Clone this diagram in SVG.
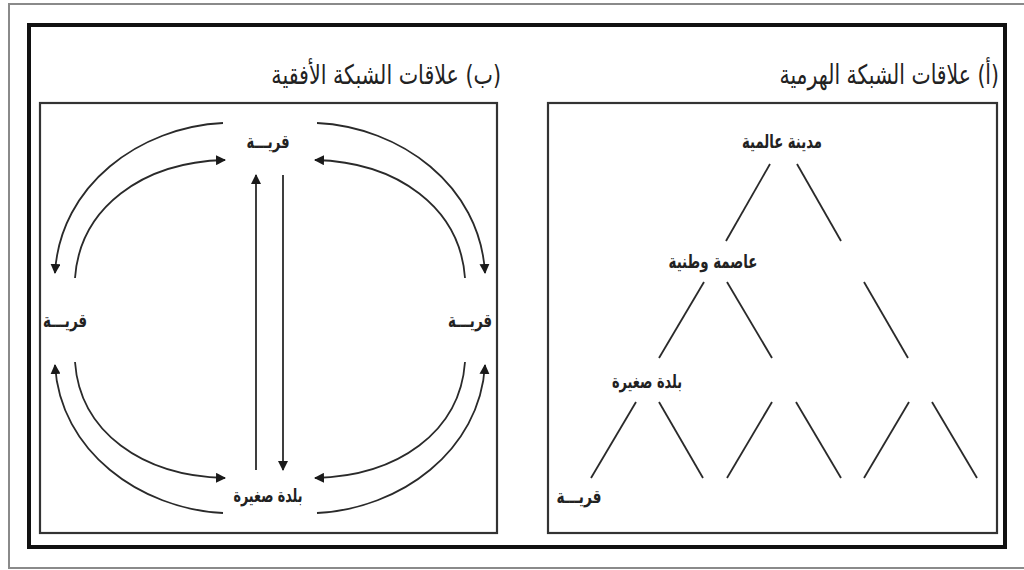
<svg xmlns="http://www.w3.org/2000/svg" width="1024" height="570" viewBox="0 0 1024 570">
<defs>
<marker id="ah" viewBox="0 0 10 10" refX="9" refY="5" markerWidth="10" markerHeight="10" markerUnits="userSpaceOnUse" orient="auto">
<path d="M0,0 L10,5 L0,10 Z" fill="#1a1a1a"/>
</marker>
</defs>
<style>
.frame-gray{fill:none;stroke:#8a8a8a;stroke-width:2}
.frame-black{fill:none;stroke:#111;stroke-width:4}
.box{fill:none;stroke:#333;stroke-width:2.2}
.title{font-family:"DejaVu Sans Condensed","DejaVu Sans",sans-serif;font-size:27px;fill:#222}
.lbl{font-family:"DejaVu Sans Condensed","DejaVu Sans",sans-serif;font-size:19px;font-weight:bold;fill:#222;text-anchor:middle}
.ln{fill:none;stroke:#2a2a2a;stroke-width:1.8}
.arr{fill:none;stroke:#2a2a2a;stroke-width:1.8;marker-end:url(#ah)}
</style>
<rect width="1024" height="570" fill="#fff"/>
<rect class="frame-gray" x="9" y="4" width="1030" height="564"/>
<rect class="frame-black" x="29" y="25" width="976" height="522"/>
<rect class="box" x="40" y="103" width="457" height="430"/>
<rect class="box" x="548" y="103" width="449" height="430"/>
<g id="title-a" transform="translate(999,84) scale(0.84,1)"><text class="title" x="0" y="0" direction="rtl" text-anchor="start">(أ) علاقات الشبكة الهرمية</text></g>
<g id="title-b" transform="translate(501,84) scale(0.85,1)"><text class="title" x="0" y="0" direction="rtl" text-anchor="start">(ب) علاقات الشبكة الأفقية</text></g>

<g id="connectors">
<line class="ln" x1="770" y1="164" x2="726" y2="241"/>
<line class="ln" x1="797" y1="164" x2="841" y2="241"/>
<line class="ln" x1="704" y1="282" x2="659" y2="358"/>
<line class="ln" x1="727" y1="282" x2="772" y2="358"/>
<line class="ln" x1="864" y1="282" x2="908" y2="358"/>
<line class="ln" x1="636" y1="402" x2="591" y2="478"/>
<line class="ln" x1="659" y1="402" x2="703" y2="478"/>
<line class="ln" x1="772" y1="402" x2="727" y2="478"/>
<line class="ln" x1="796" y1="402" x2="841" y2="478"/>
<line class="ln" x1="909" y1="402" x2="864" y2="478"/>
<line class="ln" x1="932" y1="402" x2="977" y2="478"/>
<path class="arr" d="M256,470 L256,175"/>
<path class="arr" d="M283,175 L283,470"/>
<path class="arr" d="M223,123 C140,127 60,185 55,273"/>
<path class="arr" d="M75,278 C80,208 142,162 225,160"/>
<path class="arr" d="M317,123 C400,127 480,185 485,273"/>
<path class="arr" d="M465,278 C460,208 398,162 315,160"/>
<path class="arr" d="M223,513 C140,509 60,451 55,365"/>
<path class="arr" d="M75,362 C80,432 142,476 225,478"/>
<path class="arr" d="M317,513 C400,509 480,451 485,365"/>
<path class="arr" d="M465,362 C460,432 398,476 315,478"/>
</g>

<g id="world-city"><text class="lbl" x="782" y="148" textLength="80" lengthAdjust="spacingAndGlyphs">مدينة عالمية</text></g>
<g id="national-capital"><text class="lbl" x="713" y="268" textLength="89" lengthAdjust="spacingAndGlyphs">عاصمة وطنية</text></g>
<g id="small-town-a"><text class="lbl" x="647" y="388" textLength="70" lengthAdjust="spacingAndGlyphs">بلدة صغيرة</text></g>
<g id="village-a"><text class="lbl" x="579" y="503" textLength="45" lengthAdjust="spacingAndGlyphs">قريـــة</text></g>

<g id="village-top"><text class="lbl" x="268" y="148" textLength="43" lengthAdjust="spacingAndGlyphs">قريـــة</text></g>
<g id="village-left"><text class="lbl" x="65" y="327" textLength="44" lengthAdjust="spacingAndGlyphs">قريـــة</text></g>
<g id="village-right"><text class="lbl" x="470" y="327" textLength="44" lengthAdjust="spacingAndGlyphs">قريـــة</text></g>
<g id="small-town-b"><text class="lbl" x="268" y="502" textLength="69" lengthAdjust="spacingAndGlyphs">بلدة صغيرة</text></g>
</svg>
